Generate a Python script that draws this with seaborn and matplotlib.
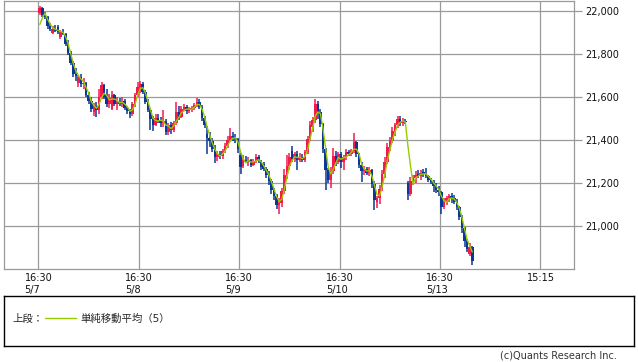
import numpy as np
import pandas as pd
import matplotlib
matplotlib.use('Agg')
import matplotlib.pyplot as plt
import seaborn as sns

# 30-minute bars (open, high, low, close), one list per session
# a session runs 16:30 (night open) ... 15:15 (next day session close)
may07 = [
    (21990, 22025, 21985, 22015), (22015, 22018, 21975, 21985), (21985, 21995, 21965, 21975),
    (21975, 21980, 21920, 21930), (21930, 21945, 21910, 21920), (21900, 21930, 21895, 21920),
    (21920, 21935, 21905, 21910), (21925, 21935, 21895, 21905), (21880, 21915, 21870, 21905),
    (21905, 21920, 21890, 21895), (21895, 21900, 21840, 21850), (21850, 21865, 21795, 21805),
    (21805, 21815, 21750, 21760), (21760, 21770, 21695, 21710), (21710, 21735, 21675, 21700),
    (21665, 21705, 21650, 21695), (21695, 21710, 21650, 21660), (21660, 21690, 21640, 21665),
    (21665, 21670, 21600, 21610), (21610, 21625, 21570, 21585), (21585, 21600, 21530, 21545),
    (21530, 21575, 21515, 21560), (21560, 21580, 21510, 21540), (21540, 21640, 21520, 21600),
    (21600, 21670, 21590, 21655), (21655, 21660, 21590, 21600),
    (21610, 21640, 21555, 21570), (21570, 21615, 21550, 21595), (21545, 21630, 21540, 21610),
    (21610, 21615, 21560, 21570), (21570, 21600, 21540, 21580), (21580, 21595, 21560, 21570),
    (21570, 21600, 21555, 21585), (21585, 21590, 21540, 21550), (21550, 21560, 21520, 21535),
    (21535, 21545, 21505, 21520), (21520, 21580, 21515, 21570), (21570, 21620, 21555, 21610),
    (21610, 21670, 21600, 21650),
]
may08 = [
    (21650, 21675, 21620, 21660), (21660, 21670, 21615, 21625), (21625, 21635, 21570, 21580),
    (21580, 21590, 21530, 21540), (21540, 21550, 21450, 21500), (21500, 21515, 21445, 21470),
    (21470, 21520, 21465, 21505), (21505, 21520, 21480, 21495), (21495, 21510, 21460, 21480),
    (21480, 21540, 21460, 21490), (21490, 21500, 21425, 21440), (21440, 21480, 21425, 21470),
    (21470, 21485, 21430, 21450), (21450, 21490, 21440, 21480), (21480, 21580, 21470, 21530),
    (21530, 21560, 21495, 21510), (21510, 21560, 21505, 21545), (21545, 21570, 21535, 21555),
    (21555, 21565, 21520, 21535), (21535, 21555, 21525, 21545), (21545, 21560, 21530, 21550),
    (21550, 21575, 21540, 21565), (21565, 21595, 21555, 21580), (21580, 21590, 21545, 21555),
    (21555, 21565, 21490, 21505), (21505, 21515, 21455, 21470),
    (21430, 21465, 21335, 21410), (21410, 21440, 21370, 21395), (21395, 21410, 21345, 21360),
    (21360, 21380, 21295, 21320), (21320, 21350, 21305, 21335), (21335, 21350, 21315, 21325),
    (21325, 21360, 21315, 21350), (21350, 21385, 21340, 21375), (21375, 21420, 21365, 21400),
    (21400, 21455, 21390, 21420), (21420, 21440, 21395, 21410), (21410, 21430, 21385, 21405),
    (21405, 21410, 21340, 21360),
]
may09 = [
    (21330, 21340, 21245, 21275), (21280, 21330, 21270, 21310), (21310, 21325, 21295, 21300),
    (21300, 21320, 21280, 21310), (21310, 21315, 21275, 21285), (21285, 21315, 21280, 21305),
    (21305, 21335, 21295, 21320), (21320, 21330, 21295, 21305), (21305, 21310, 21260, 21275),
    (21290, 21300, 21255, 21265), (21265, 21275, 21225, 21240), (21240, 21255, 21190, 21210),
    (21210, 21220, 21150, 21170), (21170, 21180, 21120, 21140), (21140, 21150, 21080, 21100),
    (21100, 21130, 21055, 21110), (21110, 21180, 21090, 21165), (21165, 21265, 21150, 21240),
    (21240, 21330, 21220, 21280), (21280, 21340, 21260, 21320), (21350, 21375, 21300, 21315),
    (21315, 21345, 21300, 21335), (21335, 21350, 21260, 21310), (21310, 21340, 21300, 21320),
    (21320, 21335, 21300, 21310), (21310, 21355, 21300, 21345),
    (21345, 21420, 21335, 21405), (21405, 21490, 21395, 21470), (21460, 21510, 21440, 21495),
    (21495, 21590, 21480, 21570), (21570, 21585, 21500, 21530), (21530, 21545, 21460, 21475),
    (21475, 21480, 21340, 21360), (21360, 21365, 21170, 21260), (21260, 21270, 21200, 21215),
    (21215, 21275, 21180, 21255), (21255, 21365, 21245, 21325), (21325, 21350, 21280, 21300),
    (21300, 21345, 21290, 21335),
]
may10 = [
    (21335, 21345, 21270, 21300), (21300, 21330, 21260, 21320), (21320, 21360, 21310, 21345),
    (21345, 21355, 21325, 21335), (21335, 21360, 21325, 21350), (21350, 21435, 21340, 21390),
    (21390, 21395, 21320, 21335), (21335, 21340, 21270, 21285), (21285, 21300, 21205, 21255),
    (21255, 21280, 21240, 21265), (21265, 21275, 21240, 21250), (21250, 21275, 21235, 21260),
    (21260, 21265, 21180, 21195), (21195, 21210, 21075, 21120), (21115, 21140, 21085, 21130),
    (21130, 21190, 21105, 21175), (21175, 21260, 21165, 21245), (21245, 21320, 21225, 21300),
    (21300, 21385, 21290, 21370), (21370, 21415, 21350, 21395), (21395, 21460, 21385, 21445),
    (21445, 21480, 21420, 21470), (21470, 21515, 21455, 21500), (21500, 21515, 21465, 21480),
    (21480, 21505, 21465, 21490), (21490, 21500, 21475, 21485),
    (21200, 21210, 21120, 21150), (21150, 21230, 21140, 21210), (21210, 21240, 21190, 21225),
    (21225, 21255, 21200, 21240), (21240, 21260, 21225, 21235), (21235, 21260, 21215, 21250),
    (21250, 21265, 21230, 21245), (21245, 21270, 21225, 21235), (21235, 21240, 21205, 21215),
    (21215, 21225, 21195, 21205), (21205, 21215, 21160, 21185), (21185, 21200, 21155, 21170),
    (21170, 21185, 21140, 21160),
]
may13 = [
    (21160, 21165, 21055, 21090), (21090, 21130, 21080, 21115), (21115, 21140, 21100, 21130),
    (21130, 21150, 21115, 21140), (21140, 21155, 21110, 21125), (21130, 21145, 21105, 21115),
    (21115, 21125, 21075, 21090), (21090, 21095, 21030, 21045), (21045, 21050, 20970, 20990),
    (20990, 20995, 20905, 20930), (20930, 20940, 20880, 20895), (20870, 20920, 20860, 20905),
    (20905, 20910, 20820, 20840),
]
# closes just before the first bar (feed the moving average)
prior_closes = [21895, 21905]

session_labels = ['16:30\n5/7', '16:30\n5/8', '16:30\n5/9', '16:30\n5/10', '16:30\n5/13', '15:15']
price_ticks = [21000, 21200, 21400, 21600, 21800, 22000]
sma_label = '単純移動平均（5）'

BARS_PER_SESSION = 39
SMA_WINDOW = 3  # 3 x 30min bars ~ same span as the 5-bar average of the source
RED = '#f5194b'
BLUE = '#0a3796'
GREEN = '#99cc00'
GRID = '#9a9a9a'

sns.set_style('white')
plt.rcParams['font.family'] = ['DejaVu Sans', 'Noto Sans CJK JP']

rows = []
for s, bars in enumerate([may07, may08, may09, may10, may13]):
    for i, (o, h, l, c) in enumerate(bars):
        rows.append({'x': s + (i + 0.5) / BARS_PER_SESSION, 'open': o, 'high': h, 'low': l, 'close': c})
df = pd.DataFrame(rows)

closes = pd.concat([pd.Series(prior_closes, dtype=float), df['close'].astype(float)], ignore_index=True)
df['sma'] = closes.rolling(SMA_WINDOW).mean().iloc[len(prior_closes):].to_numpy()

fig = plt.figure(figsize=(6.38, 3.62), dpi=100)
ax = fig.add_axes([4 / 638, 1 - 269 / 362, 570 / 638, 268 / 362])

# candles
colors = np.where(df['close'] >= df['open'], RED, BLUE)
ax.vlines(df['x'], df['low'], df['high'], colors=colors, lw=1.1, zorder=3)
body = (df['close'] - df['open']).abs().clip(lower=6)
ax.bar(df['x'], body, bottom=df[['open', 'close']].min(axis=1),
       width=1.0 / BARS_PER_SESSION, color=colors, lw=0, zorder=3)

sns.lineplot(data=df, x='x', y='sma', color=GREEN, lw=1.0, ax=ax, legend=False, zorder=4)
sma_line = ax.get_lines()[-1]

ax.set_xlim(-0.3436, 5.334)
ax.set_ylim(20801, 22048)
ax.set_xticks(range(len(session_labels)))
ax.set_xticklabels(session_labels)
for lab in ax.get_xticklabels():
    lab.set_multialignment('left')
ax.set_yticks(price_ticks)
ax.set_yticklabels([f'{v:,}' for v in price_ticks])
ax.yaxis.tick_right()
ax.set_xlabel('')
ax.set_ylabel('')
ax.grid(True, color=GRID, lw=0.9, zorder=0)
ax.set_axisbelow(True)
for sp in ax.spines.values():
    sp.set_color(GRID)
    sp.set_linewidth(0.9)
ax.tick_params(axis='y', length=6, width=0.9, color=GRID, pad=2, labelsize=7, labelcolor='#111111')
ax.tick_params(axis='x', length=0, pad=3, labelsize=7, labelcolor='#111111')

# legend box
ax_leg = fig.add_axes([4 / 638, 1 - 346 / 362, 630 / 638, 50 / 362])
ax_leg.set_xticks([])
ax_leg.set_yticks([])
for sp in ax_leg.spines.values():
    sp.set_color('black')
    sp.set_linewidth(1.0)
ax_leg.text(0.013, 0.54, '上段：', transform=ax_leg.transAxes, ha='left', va='center', fontsize=7.5)
ax_leg.legend([sma_line], [sma_label], loc='center left', bbox_to_anchor=(0.050, 0.54),
              frameon=False, handlelength=3.0, handletextpad=0.4, fontsize=7.5)

fig.text(617 / 638, 1 - 356 / 362, '(c)Quants Research Inc.', ha='right', va='center',
         fontsize=7, color='#333333')

fig.savefig('out.png', dpi=100, facecolor='white')
